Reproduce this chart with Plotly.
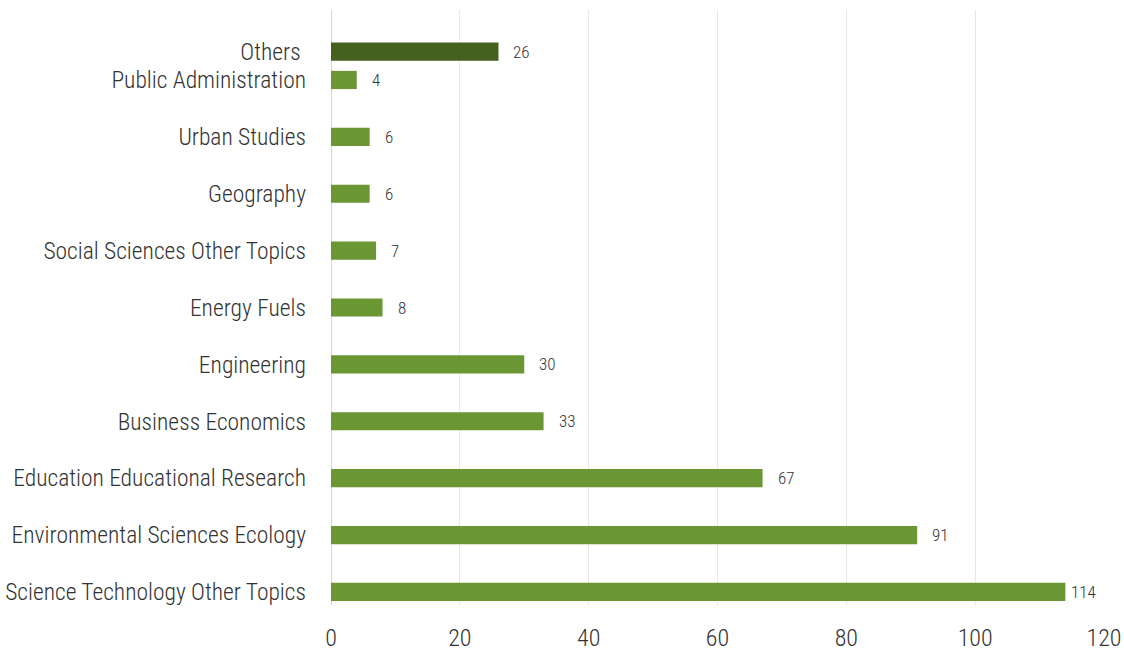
import plotly.graph_objects as go

categories = ["Science Technology Other Topics", "Environmental Sciences Ecology",
              "Education Educational Research", "Business Economics", "Engineering",
              "Energy Fuels", "Social Sciences Other Topics", "Geography", "Urban Studies",
              "Public Administration", "Others\u00a0"]
values = [114, 91, 67, 33, 30, 8, 7, 6, 6, 4, 26]
positions = [0, 1, 2, 3, 4, 5, 6, 7, 8, 9, 9.5]
colors = ["#6a9733"] * 10 + ["#46601f"]

FONT = "Roboto Condensed, Liberation Sans Narrow, Roboto, sans-serif"

fig = go.Figure(go.Bar(
    x=values, y=positions, orientation="h", marker=dict(color=colors, line=dict(width=0)),
    width=0.32, hoverinfo="skip"))

for v, p in zip(values, positions):
    fig.add_annotation(x=v, y=p, text=str(v), showarrow=False, xanchor="left",
                       xshift=4 if v >= 110 else 13,
                       font=dict(family=FONT, size=17, color="#333333", weight=300))

fig.update_layout(
    width=1124, height=653, plot_bgcolor="white", paper_bgcolor="white",
    margin=dict(l=331, r=20, t=10, b=48), showlegend=False,
    xaxis=dict(range=[0, 120], tickvals=[0, 20, 40, 60, 80, 100, 120],
               showgrid=True, gridcolor="#e8e8e8", gridwidth=1, zeroline=False,
               tickfont=dict(family=FONT, size=24, color="#333333", weight=300), ticks="",
               showline=False, automargin=False, ticklabelstandoff=16),
    yaxis=dict(range=[-0.23, 10.23], tickvals=positions, ticktext=categories,
               showgrid=False, zeroline=False, ticks="", ticklabelstandoff=24,
               automargin=False,
               tickfont=dict(family=FONT, size=23.5, color="#333333", weight=300)),
    font=dict(family=FONT),
)
fig.add_shape(type="line", xref="x", yref="paper", x0=0, x1=0, y0=0, y1=1,
              line=dict(color="#d6d6d6", width=2), layer="below")
fig.write_html("out.html")
